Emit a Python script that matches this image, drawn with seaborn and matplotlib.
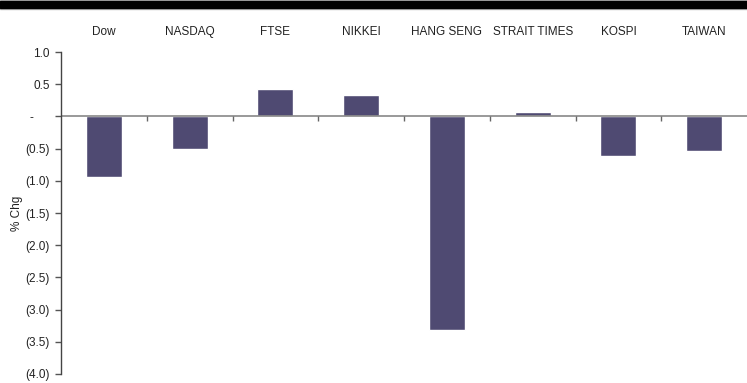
import pandas as pd
import seaborn as sns
import matplotlib.pyplot as plt
import numpy as np
from matplotlib.patches import Rectangle

markets = ['Dow', 'NASDAQ', 'FTSE', 'NIKKEI', 'HANG SENG', 'STRAIT TIMES', 'KOSPI', 'TAIWAN']
pct_chg = [-0.94, -0.51, 0.42, 0.34, -3.32, 0.07, -0.62, -0.54]
y_ticks = [1.0, 0.5, 0.0, -0.5, -1.0, -1.5, -2.0, -2.5, -3.0, -3.5, -4.0]

sns.set_style('white')
plt.rcParams['font.family'] = ['Liberation Sans', 'DejaVu Sans']

df = pd.DataFrame({'market': markets, 'chg': pct_chg})

fig = plt.figure(figsize=(7.47, 3.83), dpi=100)
ax = fig.add_axes([0.0817, 0.0235, 0.9183, 0.8407])

sns.barplot(data=df, x='market', y='chg', color='#4f4a72', width=0.42,
            saturation=1, ax=ax)

ax.set_ylim(-4.0, 1.0)
ax.set_xlim(-0.5, len(markets) - 0.5)


def fmt(v):
    # accounting style: brackets for negatives, dash for zero
    if abs(v) < 1e-9:
        return '-\u2007\u2007 '
    if v < 0:
        return f'({abs(v):.1f})'
    return f'{v:.1f}'


ax.set_yticks(y_ticks)
ax.set_yticklabels([fmt(v) for v in y_ticks], fontsize=8.5, color='#222222')
ax.tick_params(axis='y', direction='out', length=4, width=1, color='#555555', pad=4, left=True)
ax.set_ylabel('% Chg', fontsize=8.5, color='#222222', labelpad=2)

# category names across the top
ax.xaxis.tick_top()
ax.set_xticks(range(len(markets)))
ax.set_xticklabels(markets, fontsize=8.5, color='#222222')
ax.tick_params(axis='x', length=0, pad=10)
ax.set_xlabel('')

# zero line with boundary ticks
ax.axhline(0, color='#888888', lw=1.2, zorder=1)
bounds = np.arange(0.5, len(markets) - 0.5)
ax.vlines(bounds, -0.07, 0, color='#666666', lw=1, zorder=1)

for s in ['top', 'right', 'bottom']:
    ax.spines[s].set_visible(False)
ax.spines['left'].set_color('#444444')
ax.spines['left'].set_linewidth(1)

# header band
h = 383
fig.patches.append(Rectangle((0, 1 - 9 / h), 1, 9 / h, transform=fig.transFigure,
                             color='#bbbbbb', zorder=5))
fig.patches.append(Rectangle((0, 1 - 8 / h), 1, 6.5 / h, transform=fig.transFigure,
                             color='black', zorder=6))

fig.savefig('out.png', dpi=100)
